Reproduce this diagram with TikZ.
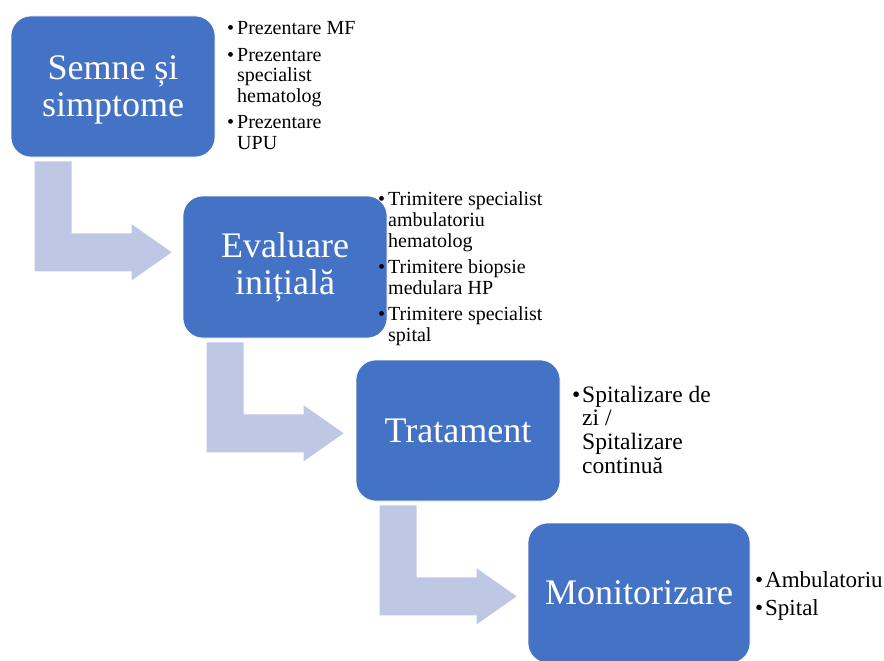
\documentclass[tikz,border=0pt]{standalone}
\usepackage{fontspec}
\setmainfont{Liberation Serif}
\usetikzlibrary{calc}
\definecolor{boxblue}{HTML}{4472C4}
\definecolor{arrowfill}{RGB}{190,200,228}
\newcommand{\bul}{\makebox[10pt][l]{•}}
\tikzset{
  stepbox/.style={rounded corners=20pt, fill=boxblue, draw=white, line width=0.6pt,
    text=white, align=center, font=\fontsize{36}{37}\selectfont, inner sep=0pt},
  listtext/.style={anchor=base west, inner sep=0pt, text=black},
  bentarrow/.pic={\fill[arrowfill] (0,0) -- (37,0) -- (37,72) -- (97,72) -- (97,63)
     -- (137,91) -- (97,119) -- (97,110) -- (0,110) -- cycle;}
}
\begin{document}
\begin{tikzpicture}[x=1pt,y=-1pt]
\useasboundingbox (0,0) rectangle (884,661);
% boxes
\node[stepbox, minimum width=204pt, minimum height=141pt] (b1) at (113,86.5) {};
\node[text=white, align=center, font=\fontsize{36}{37}\selectfont, inner sep=0pt] (t1) at ($(b1.center)+(0,3)$) {Semne și\\simptome};
\node[stepbox, minimum width=204pt, minimum height=142pt] (b2) at (285,267) {Evaluare\\inițială};
\node[stepbox, minimum width=204pt, minimum height=141pt] (b3) at (458,430.5) {Tratament};
\node[stepbox, minimum width=222pt, minimum height=140pt] (b4) at (639,593) {Monitorizare};
% bent arrows
\pic at ($(b1.south west)+(24,4)$) {bentarrow};
\pic at ($(b2.south west)+(24,4)$) {bentarrow};
\pic at ($(b3.south west)+(24,4)$) {bentarrow};
% lists
\node[listtext, font=\fontsize{20}{20.5}\selectfont] (l1) at (227,35) {%
\begin{tabular}[t]{@{}l@{}l@{}}
\bul & Prezentare MF\\[6pt]
\bul & Prezentare\\
 & specialist\\
 & hematolog\\[6pt]
\bul & Prezentare\\
 & UPU
\end{tabular}};
\node[listtext, font=\fontsize{20}{21}\selectfont] (l2) at (378,205) {%
\begin{tabular}[t]{@{}l@{}l@{}}
\bul & Trimitere specialist\\
 & ambulatoriu\\
 & hematolog\\[5pt]
\bul & Trimitere biopsie\\
 & medulara HP\\[5pt]
\bul & Trimitere specialist\\
 & spital
\end{tabular}};
\node[listtext, font=\fontsize{23.5}{23.7}\selectfont] (l3) at (572,402) {%
\begin{tabular}[t]{@{}l@{}l@{}}
\bul & Spitalizare de\\
 & zi /\\
 & Spitalizare\\
 & continuă
\end{tabular}};
\node[listtext, font=\fontsize{23}{23}\selectfont] (l4) at (755,587) {%
\begin{tabular}[t]{@{}l@{}l@{}}
\bul & Ambulatoriu\\[5pt]
\bul & Spital
\end{tabular}};
\end{tikzpicture}
\end{document}
